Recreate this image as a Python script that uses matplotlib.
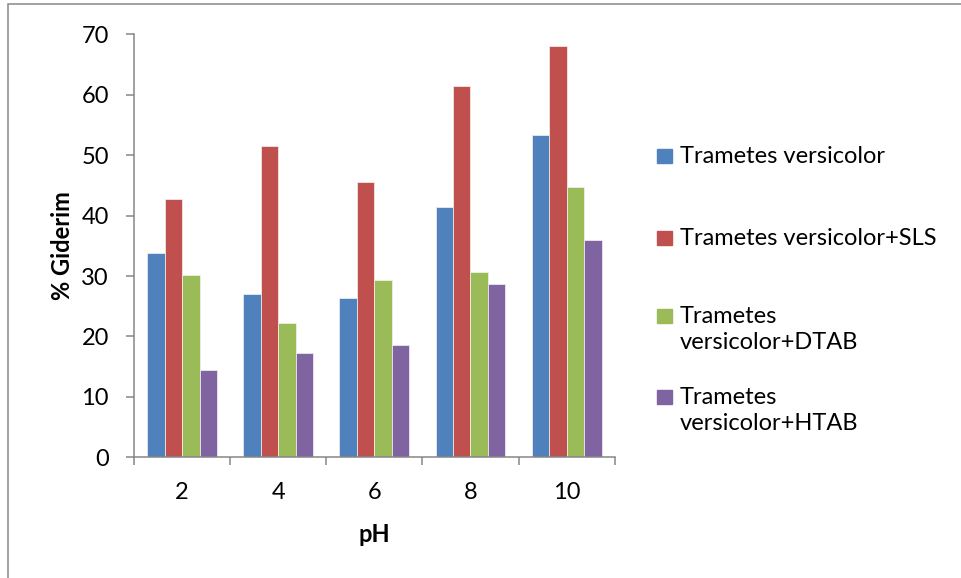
import matplotlib.pyplot as plt
from matplotlib.patches import Rectangle
import numpy as np

plt.rcParams['font.family'] = ['Lato', 'DejaVu Sans']

ph_labels = ['2', '4', '6', '8', '10']
series_names = ['Trametes versicolor', 'Trametes versicolor+SLS',
                'Trametes\nversicolor+DTAB', 'Trametes\nversicolor+HTAB']
tv = [33.8, 27.0, 26.3, 41.5, 53.3]
tv_sls = [42.8, 51.5, 45.6, 61.5, 68.1]
tv_dtab = [30.1, 22.2, 29.3, 30.6, 44.8]
tv_htab = [14.5, 17.3, 18.6, 28.7, 36.0]
colors = ['#4F81BD', '#C0504D', '#9BBB59', '#8064A2']
fs = 17

fig = plt.figure(figsize=(9.61, 5.78), dpi=100)
ax = fig.add_axes([134 / 961, 1 - 457.3 / 578, (614.7 - 134) / 961, (457.3 - 34.3) / 578])

x = np.arange(len(ph_labels))
w = 1 / 5.5
for i, vals in enumerate([tv, tv_sls, tv_dtab, tv_htab]):
    ax.bar(x + (i - 1.5) * w, vals, width=w, color=colors[i],
           edgecolor='#f4f4f4', linewidth=0.5)

ax.set_xlim(-0.5, 4.5)
ax.set_ylim(0, 70)
ax.set_yticks(range(0, 71, 10))
ax.set_xticks(np.arange(-0.5, 5, 1), minor=False)
ax.set_xticklabels([])
ax.set_xticks(x, minor=True)
ax.set_xticklabels(ph_labels, minor=True)
ax.tick_params(axis='x', which='minor', length=0, pad=18, labelsize=fs)
ax.tick_params(axis='x', which='major', length=6, width=1.1, color='#868686', direction='out')
ax.tick_params(axis='y', length=6, width=1.1, color='#868686', direction='out', pad=12, labelsize=fs)

for s in ['top', 'right']:
    ax.spines[s].set_visible(False)
for s in ['left', 'bottom']:
    ax.spines[s].set_color('#868686')
    ax.spines[s].set_linewidth(1.1)

ax.set_ylabel('% Giderim', fontsize=fs, fontweight='bold', labelpad=5)
ax.set_xlabel('pH', fontsize=fs, fontweight='bold', labelpad=14)

# legend drawn by hand to keep the uneven spacing
leg_y = [156, 238, 316, 397]
for c, name, yc in zip(colors, series_names, leg_y):
    fig.patches.append(Rectangle((657 / 961, 1 - (yc + 7) / 578), 15 / 961, 14 / 578,
                                 transform=fig.transFigure, color=c))
    fig.text(680 / 961, 1 - (yc - 10) / 578, name, fontsize=fs, va='top', ha='left',
             linespacing=1.32)

# chart area border
fig.patches.append(Rectangle((8 / 961, -0.05), 1.1, 1 - 4 / 578 + 0.05,
                             transform=fig.transFigure, fill=False,
                             edgecolor='#888888', linewidth=1.1, clip_on=False))

fig.savefig('out.png', dpi=100)
